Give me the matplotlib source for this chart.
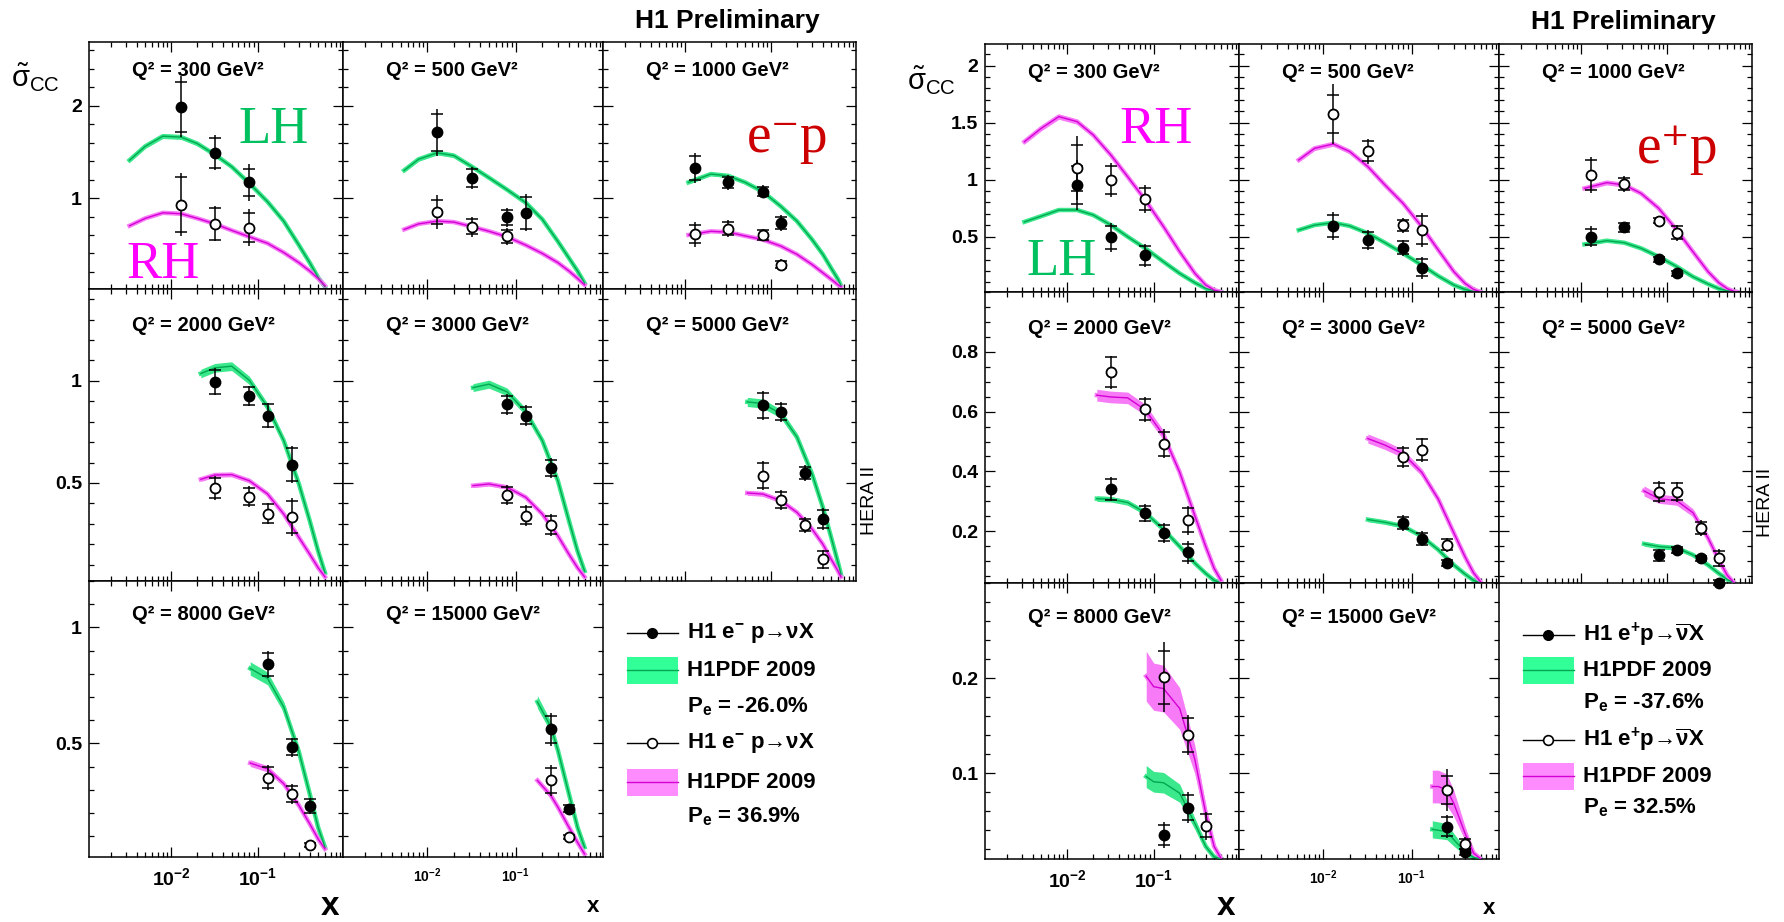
import numpy as np
import matplotlib.pyplot as plt
from matplotlib.ticker import FixedLocator, FixedFormatter, NullFormatter, MultipleLocator
from matplotlib.patches import Rectangle

plt.rcParams['font.family'] = ['Liberation Sans', 'DejaVu Sans']
plt.rcParams['mathtext.fontset'] = 'custom'
plt.rcParams['mathtext.rm'] = 'Liberation Sans:bold'
plt.rcParams['mathtext.it'] = 'Liberation Sans:bold'
plt.rcParams['mathtext.bf'] = 'Liberation Sans:bold'
plt.rcParams['mathtext.sf'] = 'Liberation Sans'
plt.rcParams['mathtext.default'] = 'rm'

nan = np.nan

# ---------------- data ----------------
q2_bins = [300, 500, 1000, 2000, 3000, 5000, 8000, 15000]
bin_x = [[0.013, 0.032, 0.08], [0.013, 0.032, 0.08, 0.13], [0.013, 0.032, 0.08, 0.13],
         [0.032, 0.08, 0.13, 0.25], [0.08, 0.13, 0.25], [0.08, 0.13, 0.25, 0.4],
         [0.13, 0.25, 0.4], [0.25, 0.4]]

# e- p  (filled = LH, P=-26.0%;  open = RH, P=+36.9%)
em_lh = [[1.99, 1.49, 1.17], [1.71, 1.22, 0.79, 0.84], [1.325, 1.17, 1.07, 0.73],
         [0.995, 0.925, 0.83, 0.59], [0.885, 0.83, 0.574], [0.88, 0.848, 0.549, 0.323],
         [0.84, 0.483, 0.229], [0.56, 0.218]]
em_lh_tot = [[0.33, 0.19, 0.2], [0.25, 0.12, 0.1, 0.2], [0.16, 0.08, 0.07, 0.09],
             [0.066, 0.05, 0.063, 0.09], [0.05, 0.05, 0.05], [0.07, 0.05, 0.04, 0.055],
             [0.06, 0.04, 0.034], [0.07, 0.02]]
em_lh_stat = [[0.27, 0.16, 0.15], [0.2, 0.1, 0.08, 0.17], [0.13, 0.06, 0.05, 0.07],
              [0.06, 0.045, 0.055, 0.08], [0.04, 0.04, 0.04], [0.06, 0.04, 0.03, 0.045],
              [0.05, 0.035, 0.03], [0.06, 0.015]]
em_rh = [[0.93, 0.72, 0.68], [0.85, 0.69, 0.585, nan], [0.61, 0.67, 0.60, 0.28],
         [0.475, 0.433, 0.35, 0.334], [0.441, 0.34, 0.293], [0.536, 0.418, 0.293, 0.126],
         [0.352, 0.282, 0.062], [0.34, 0.095]]
em_rh_tot = [[0.34, 0.19, 0.2], [0.18, 0.11, 0.09, 0.0], [0.135, 0.09, 0.07, 0.06],
             [0.06, 0.05, 0.053, 0.093], [0.05, 0.05, 0.053], [0.07, 0.05, 0.04, 0.047],
             [0.053, 0.042, 0.01], [0.065, 0.01]]
em_rh_stat = [[0.3, 0.17, 0.16], [0.13, 0.08, 0.07, 0.0], [0.1, 0.07, 0.05, 0.04],
              [0.05, 0.04, 0.045, 0.08], [0.04, 0.04, 0.045], [0.06, 0.04, 0.03, 0.04],
              [0.045, 0.035, 0.008], [0.055, 0.008]]
em_curve_x = [[0.0033, 0.005, 0.008, 0.013, 0.02, 0.032, 0.05, 0.08, 0.13, 0.2, 0.3, 0.4, 0.5, 0.6],
              [0.0055, 0.008, 0.013, 0.02, 0.032, 0.05, 0.08, 0.13, 0.2, 0.3, 0.4, 0.5, 0.6],
              [0.011, 0.02, 0.032, 0.05, 0.08, 0.13, 0.2, 0.3, 0.4, 0.5, 0.6, 0.65],
              [0.022, 0.032, 0.05, 0.08, 0.13, 0.2, 0.3, 0.4, 0.5, 0.6],
              [0.033, 0.05, 0.08, 0.13, 0.2, 0.3, 0.4, 0.5, 0.6],
              [0.053, 0.08, 0.13, 0.2, 0.3, 0.4, 0.5, 0.6, 0.65],
              [0.082, 0.13, 0.2, 0.3, 0.4, 0.5, 0.6],
              [0.176, 0.25, 0.3, 0.4, 0.5, 0.6]]
em_curve_lh = [[1.41, 1.56, 1.67, 1.66, 1.59, 1.47, 1.34, 1.16, 0.96, 0.75, 0.49, 0.30, 0.14, 0.04],
               [1.30, 1.42, 1.49, 1.46, 1.34, 1.22, 1.09, 0.95, 0.77, 0.53, 0.35, 0.21, 0.08],
               [1.17, 1.26, 1.24, 1.17, 1.07, 0.91, 0.75, 0.55, 0.39, 0.24, 0.12, 0.05],
               [1.036, 1.064, 1.072, 1.003, 0.872, 0.708, 0.495, 0.315, 0.167, 0.06],
               [0.967, 0.984, 0.946, 0.848, 0.708, 0.511, 0.315, 0.167, 0.069],
               [0.897, 0.889, 0.839, 0.725, 0.544, 0.38, 0.233, 0.11, 0.052],
               [0.823, 0.78, 0.657, 0.463, 0.282, 0.138, 0.052],
               [0.679, 0.571, 0.47, 0.282, 0.138, 0.052]]
em_curve_rh = [[0.70, 0.78, 0.84, 0.83, 0.78, 0.72, 0.65, 0.58, 0.51, 0.41, 0.30, 0.21, 0.13, 0.05],
               [0.66, 0.72, 0.75, 0.74, 0.69, 0.64, 0.58, 0.49, 0.40, 0.30, 0.21, 0.13, 0.06],
               [0.60, 0.64, 0.63, 0.59, 0.55, 0.48, 0.39, 0.28, 0.19, 0.12, 0.06, 0.04],
               [0.518, 0.539, 0.541, 0.511, 0.446, 0.348, 0.233, 0.151, 0.085, 0.04],
               [0.487, 0.495, 0.479, 0.43, 0.348, 0.241, 0.151, 0.085, 0.04],
               [0.451, 0.446, 0.413, 0.356, 0.274, 0.2, 0.126, 0.069, 0.04],
               [0.415, 0.39, 0.326, 0.232, 0.153, 0.088, 0.045],
               [0.34, 0.275, 0.225, 0.138, 0.073, 0.023]]
em_band_lh = [0.015, 0.015, 0.015, 0.02, 0.02, 0.025, 0.035, 0.04]
em_band_rh = [0.015, 0.015, 0.015, 0.02, 0.02, 0.025, 0.035, 0.04]

# e+ p  (filled = LH, P=-37.6%;  open = RH, P=+32.5%)
ep_lh = [[0.953, 0.494, 0.336], [0.594, 0.47, 0.404, 0.228], [0.5, 0.582, 0.301, 0.178],
         [0.341, 0.26, 0.194, 0.129], [0.228, 0.175, 0.095], [0.119, 0.138, 0.109, 0.028],
         [0.035, 0.0639, nan], [0.0439, 0.0175]]
ep_lh_tot = [[0.22, 0.125, 0.1], [0.125, 0.088, 0.07, 0.095], [0.09, 0.05, 0.03, 0.03],
             [0.041, 0.03, 0.033, 0.037], [0.026, 0.025, 0.012], [0.022, 0.015, 0.012, 0.01],
             [0.014, 0.016, 0.0], [0.012, 0.004]]
ep_lh_stat = [[0.17, 0.1, 0.08], [0.1, 0.07, 0.055, 0.075], [0.07, 0.04, 0.02, 0.02],
              [0.035, 0.025, 0.028, 0.03], [0.02, 0.02, 0.01], [0.018, 0.01, 0.008, 0.008],
              [0.011, 0.013, 0.0], [0.01, 0.003]]
ep_rh = [[1.10, 0.997, 0.83], [1.576, 1.251, 0.6, 0.56], [1.041, 0.962, 0.64, 0.535],
         [0.732, 0.608, 0.493, 0.237], [0.448, 0.473, 0.155], [0.332, 0.332, 0.211, 0.11],
         [0.201, 0.14, 0.0446], [0.0825, 0.0256]]
ep_rh_tot = [[0.28, 0.15, 0.125], [0.26, 0.11, 0.065, 0.146], [0.16, 0.07, 0.03, 0.07],
             [0.055, 0.042, 0.048, 0.048], [0.037, 0.04, 0.023], [0.037, 0.034, 0.026, 0.03],
             [0.037, 0.021, 0.015], [0.022, 0.007]]
ep_rh_stat = [[0.2, 0.12, 0.1], [0.17, 0.09, 0.05, 0.12], [0.13, 0.055, 0.02, 0.055],
              [0.05, 0.035, 0.04, 0.04], [0.03, 0.035, 0.018], [0.03, 0.028, 0.02, 0.025],
              [0.028, 0.018, 0.012], [0.015, 0.005]]
ep_curve_x = [[0.0032, 0.005, 0.008, 0.013, 0.02, 0.032, 0.05, 0.08, 0.13, 0.2, 0.3, 0.4, 0.5, 0.6],
              [0.0053, 0.008, 0.013, 0.02, 0.032, 0.05, 0.08, 0.13, 0.2, 0.3, 0.4, 0.5, 0.6],
              [0.011, 0.02, 0.032, 0.05, 0.08, 0.13, 0.2, 0.3, 0.4, 0.5, 0.6, 0.65],
              [0.022, 0.032, 0.05, 0.08, 0.13, 0.2, 0.3, 0.4, 0.5, 0.6],
              [0.032, 0.05, 0.08, 0.13, 0.2, 0.3, 0.4, 0.5, 0.6],
              [0.054, 0.08, 0.13, 0.2, 0.3, 0.4, 0.5, 0.6],
              [0.082, 0.1, 0.13, 0.2, 0.3, 0.4, 0.5, 0.6],
              [0.171, 0.2, 0.25, 0.3, 0.4, 0.5, 0.6]]
ep_curve_lh = [[0.63, 0.68, 0.734, 0.734, 0.69, 0.602, 0.5, 0.398, 0.28, 0.178, 0.096, 0.047, 0.026, 0.015],
               [0.558, 0.602, 0.623, 0.594, 0.53, 0.447, 0.354, 0.251, 0.155, 0.076, 0.038, 0.02, 0.015],
               [0.433, 0.465, 0.447, 0.398, 0.325, 0.237, 0.149, 0.085, 0.044, 0.026, 0.018, 0.015],
               [0.309, 0.307, 0.296, 0.262, 0.206, 0.149, 0.093, 0.059, 0.036, 0.027],
               [0.239, 0.23, 0.217, 0.183, 0.138, 0.087, 0.057, 0.036, 0.027],
               [0.158, 0.149, 0.144, 0.121, 0.087, 0.059, 0.039, 0.027],
               [0.0965, 0.091, 0.09, 0.079, 0.047, 0.023, 0.012, 0.01],
               [0.041, 0.04, 0.0386, 0.03, 0.0175, 0.0116, 0.01]]
ep_curve_rh = [[1.333, 1.45, 1.553, 1.509, 1.392, 1.216, 1.026, 0.822, 0.588, 0.368, 0.178, 0.076, 0.032, 0.015],
               [1.173, 1.275, 1.313, 1.246, 1.114, 0.953, 0.792, 0.588, 0.383, 0.193, 0.091, 0.038, 0.015],
               [0.924, 0.974, 0.953, 0.88, 0.749, 0.558, 0.368, 0.193, 0.096, 0.044, 0.02, 0.015],
               [0.655, 0.649, 0.646, 0.606, 0.521, 0.397, 0.251, 0.149, 0.076, 0.036],
               [0.51, 0.488, 0.459, 0.397, 0.307, 0.194, 0.115, 0.061, 0.031],
               [0.335, 0.309, 0.302, 0.262, 0.177, 0.104, 0.053, 0.027],
               [0.202, 0.191, 0.189, 0.168, 0.114, 0.058, 0.023, 0.0105],
               [0.086, 0.086, 0.0825, 0.068, 0.037, 0.016, 0.01]]
ep_band_lh = [0.015, 0.015, 0.02, 0.03, 0.03, 0.05, 0.12, 0.22]
ep_band_rh = [0.015, 0.015, 0.02, 0.03, 0.03, 0.05, 0.13, 0.2]

em_legend = ['H1 e$^{-}$ p→νX', 'H1PDF 2009', 'P$_{e}$ = -26.0%',
             'H1 e$^{-}$ p→νX', 'H1PDF 2009', 'P$_{e}$ = 36.9%']
ep_legend = ['H1 e$^{+}$p→$\\overline{\\nu}$X', 'H1PDF 2009', 'P$_{e}$ = -37.6%',
             'H1 e$^{+}$p→$\\overline{\\nu}$X', 'H1PDF 2009', 'P$_{e}$ = 32.5%']

# ---------------- layout / style ----------------
W, H = 1784, 922
xlo, xhi = 0.00112, 0.97
green_band, green_line, green_leg = '#3be88c', '#00a850', '#33ff99'
mag_band, mag_line, mag_leg = '#f77af7', '#d400d4', '#ff8cff'

grids = [
    dict(cols=[89, 343, 603, 856], rows=[42, 289, 581, 857], tit_off=[29, 36, 33],
         ylims=[(0.015, 2.69), (0.02, 1.45), (0.01, 1.2)],
         ymaj=[[1, 2], [0.5, 1], [0.5, 1]], ylab=[['1', '2'], ['0.5', '1'], ['0.5', '1']],
         ymin=[0.2, 0.1, 0.1],
         pts=(em_lh, em_lh_tot, em_lh_stat, em_rh, em_rh_tot, em_rh_stat),
         cur=(em_curve_x, em_curve_lh, em_curve_rh, em_band_lh, em_band_rh)),
    dict(cols=[985, 1239, 1499, 1752], rows=[44, 292, 583, 859], tit_off=[28, 36, 34],
         ylims=[(0.015, 2.19), (0.027, 1.0), (0.0098, 0.3)],
         ymaj=[[0.5, 1, 1.5, 2], [0.2, 0.4, 0.6, 0.8], [0.1, 0.2]],
         ylab=[['0.5', '1', '1.5', '2'], ['0.2', '0.4', '0.6', '0.8'], ['0.1', '0.2']],
         ymin=[0.1, 0.05, 0.02],
         pts=(ep_lh, ep_lh_tot, ep_lh_stat, ep_rh, ep_rh_tot, ep_rh_stat),
         cur=(ep_curve_x, ep_curve_lh, ep_curve_rh, ep_band_lh, ep_band_rh)),
]

fig = plt.figure(figsize=(W / 100, H / 100), dpi=100)
titles = []

for g in grids:
    lh, lh_tot, lh_stat, rh, rh_tot, rh_stat = g['pts']
    cx_all, clh_all, crh_all, blh_all, brh_all = g['cur']
    for p in range(8):
        r, c = divmod(p, 3)
        x0, x1 = g['cols'][c], g['cols'][c + 1]
        y0, y1 = g['rows'][r], g['rows'][r + 1]
        ax = fig.add_axes([x0 / W, 1 - y1 / H, (x1 - x0) / W, (y1 - y0) / H])

        # theory bands
        cx = np.array(cx_all[p])
        for cy, rel, fc, lc in [(clh_all[p], blh_all[p], green_band, green_line),
                                (crh_all[p], brh_all[p], mag_band, mag_line)]:
            cy = np.array(cy)
            ax.fill_between(cx, cy * (1 - rel), cy * (1 + rel), color=fc, lw=0, zorder=2)
            ax.plot(cx, cy, color=fc, lw=3.2, zorder=2)
            ax.plot(cx, cy, color=lc, lw=1.0, zorder=3)

        # data points: total error as line, statistical error as crossbars
        px = np.array(bin_x[p])
        for y, tot, stat, face in [(lh[p], lh_tot[p], lh_stat[p], 'k'),
                                   (rh[p], rh_tot[p], rh_stat[p], 'white')]:
            y = np.array(y, dtype=float)
            tot = np.array(tot)
            stat = np.array(stat)
            ax.vlines(px, y - tot, y + tot, color='k', lw=1.1, zorder=4, clip_on=False)
            ax.plot(px, y + stat, '_', color='k', ms=8, mew=1.1, zorder=4, clip_on=False)
            ax.plot(px, y - stat, '_', color='k', ms=8, mew=1.1, zorder=4, clip_on=False)
            ax.plot(px, y, 'o', ms=7.2, mfc=face, mec='k', mew=1.3, zorder=5, clip_on=False)

        ax.set_xscale('log')
        ax.set_xlim(xlo, xhi)
        ax.set_ylim(*g['ylims'][r])
        ax.xaxis.set_major_locator(FixedLocator([1e-3, 1e-2, 1e-1, 1.0]))
        ax.xaxis.set_minor_locator(FixedLocator([m * 10.0 ** e for e in (-3, -2, -1) for m in range(2, 10)]))
        ax.xaxis.set_minor_formatter(NullFormatter())
        ax.yaxis.set_major_locator(FixedLocator(g['ymaj'][r]))
        ax.yaxis.set_minor_locator(MultipleLocator(g['ymin'][r]))
        ax.yaxis.set_minor_formatter(NullFormatter())
        if c == 0:
            ax.yaxis.set_major_formatter(FixedFormatter(g['ylab'][r]))
        else:
            ax.yaxis.set_major_formatter(NullFormatter())
        if r == 2:
            ax.xaxis.set_major_formatter(FixedFormatter(['$10^{-3}$', '$10^{-2}$', '$10^{-1}$', '$1$']))
        else:
            ax.xaxis.set_major_formatter(NullFormatter())
        ax.tick_params(which='both', direction='in', top=True, right=True, width=0.9, color='k')
        ax.tick_params(which='major', length=7)
        ax.tick_params(which='minor', length=3.5)
        ax.tick_params(axis='y', which='major', labelsize=14, pad=5)
        ax.tick_params(axis='x', which='major', labelsize=14 if c == 0 else 10, pad=7)
        for lab in ax.get_yticklabels():
            lab.set_fontweight('bold')
        for s in ax.spines.values():
            s.set_linewidth(1.1)

        titles.append((x0 + 43, y0 + g['tit_off'][r], 'Q² = %d GeV²' % q2_bins[p]))

# ---------------- overlay text (pixel coordinates) ----------------
ov = fig.add_axes([0, 0, 1, 1])
ov.set_xlim(0, W)
ov.set_ylim(H, 0)
ov.axis('off')

for tx, ty, s in titles:
    ov.text(tx, ty, s, fontsize=14.5, fontweight='bold', ha='left', va='center')

ov.text(727, 21, 'H1 Preliminary', fontsize=19, fontweight='bold', ha='center', va='center')
ov.text(1623, 22, 'H1 Preliminary', fontsize=19, fontweight='bold', ha='center', va='center')
ov.text(35, 78, r'$\mathsf{\tilde{\sigma}_{CC}}$', fontsize=21, ha='center', va='center')
ov.text(931, 81, r'$\mathsf{\tilde{\sigma}_{CC}}$', fontsize=21, ha='center', va='center')
ov.text(870, 500, 'HERA II', fontsize=14, rotation=90, ha='center', va='center')
ov.text(1765, 502, 'HERA II', fontsize=14, rotation=90, ha='center', va='center')

serif = ['Liberation Serif', 'DejaVu Serif']
ov.text(274, 143, 'LH', family=serif, fontsize=38, color='#00c060', ha='center', va='baseline')
ov.text(163, 278, 'RH', family=serif, fontsize=38, color='#ff00ff', ha='center', va='baseline')
ov.text(788, 152, 'e⁻p', family=serif, fontsize=40, color='#cc0000', ha='center', va='baseline')
ov.text(1156, 143, 'RH', family=serif, fontsize=38, color='#ff00ff', ha='center', va='baseline')
ov.text(1062, 275, 'LH', family=serif, fontsize=38, color='#00c060', ha='center', va='baseline')
ov.text(1678, 163, 'e⁺p', family=serif, fontsize=40, color='#cc0000', ha='center', va='baseline')

# axis titles
ov.text(330, 906, 'x', fontsize=24, fontweight='bold', ha='center', va='center')
ov.text(593, 906, 'x', fontsize=16, fontweight='bold', ha='center', va='center')
ov.text(1226, 906, 'x', fontsize=24, fontweight='bold', ha='center', va='center')
ov.text(1489, 908, 'x', fontsize=16, fontweight='bold', ha='center', va='center')


def draw_legend(lx, tx, ys, labels):
    # filled points and LH band
    ov.plot([lx, lx + 51], [ys[0], ys[0]], color='k', lw=1.0)
    ov.plot(lx + 25, ys[0], 'o', ms=7, mfc='k', mec='k')
    ov.add_patch(Rectangle((lx, ys[1] - 13), 51, 27, color=green_leg, lw=0))
    ov.plot([lx, lx + 51], [ys[1], ys[1]], color=green_line, lw=1.0)
    # open points and RH band
    ov.plot([lx, lx + 51], [ys[3], ys[3]], color='k', lw=1.0)
    ov.plot(lx + 25, ys[3], 'o', ms=7, mfc='white', mec='k', mew=1.2)
    ov.add_patch(Rectangle((lx, ys[4] - 13), 51, 27, color=mag_leg, lw=0))
    ov.plot([lx, lx + 51], [ys[4], ys[4]], color=mag_line, lw=1.0)
    for yy, s in zip(ys, labels):
        ov.text(tx, yy, s, fontsize=16, fontweight='bold', ha='left', va='center')


draw_legend(627, 687, [633, 670, 707, 743, 782, 817], em_legend)
draw_legend(1523, 1583, [635, 670, 703, 740, 776, 808], ep_legend)

fig.savefig('out.png', dpi=100)
